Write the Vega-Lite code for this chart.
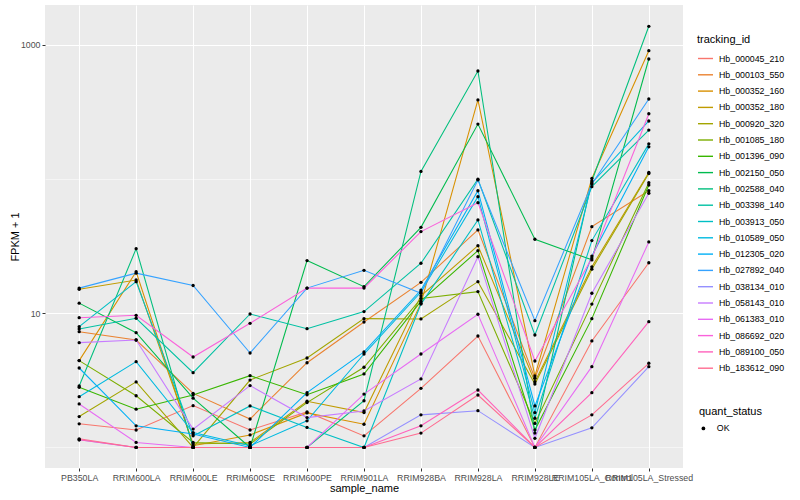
{
"$schema":"https://vega.github.io/schema/vega-lite/v6.json",
"autosize":{"type":"none"},
"width":638,"height":463,
"padding":{"left":45,"top":5,"right":117,"bottom":32},
"background":"white",
"config":{"view":{"fill":"#EBEBEB","stroke":null},"font":"Liberation Sans"},
"datasets":{"expr":[
{"tracking_id":"Hb_000045_210","sample_name":"PB350LA","FPKM_plus_1":1.50,"quant_status":"OK"},
{"tracking_id":"Hb_000045_210","sample_name":"RRIM600LA","FPKM_plus_1":1.35,"quant_status":"OK"},
{"tracking_id":"Hb_000045_210","sample_name":"RRIM600LE","FPKM_plus_1":2.05,"quant_status":"OK"},
{"tracking_id":"Hb_000045_210","sample_name":"RRIM600SE","FPKM_plus_1":1.35,"quant_status":"OK"},
{"tracking_id":"Hb_000045_210","sample_name":"RRIM600PE","FPKM_plus_1":1.84,"quant_status":"OK"},
{"tracking_id":"Hb_000045_210","sample_name":"RRIM901LA","FPKM_plus_1":1.22,"quant_status":"OK"},
{"tracking_id":"Hb_000045_210","sample_name":"RRIM928BA","FPKM_plus_1":2.76,"quant_status":"OK"},
{"tracking_id":"Hb_000045_210","sample_name":"RRIM928LA","FPKM_plus_1":6.77,"quant_status":"OK"},
{"tracking_id":"Hb_000045_210","sample_name":"RRIM928LE","FPKM_plus_1":1,"quant_status":"OK"},
{"tracking_id":"Hb_000045_210","sample_name":"RRIM105LA_Control","FPKM_plus_1":6.22,"quant_status":"OK"},
{"tracking_id":"Hb_000045_210","sample_name":"RRIM105LA_Stressed","FPKM_plus_1":23.8,"quant_status":"OK"},
{"tracking_id":"Hb_000103_550","sample_name":"PB350LA","FPKM_plus_1":7.29,"quant_status":"OK"},
{"tracking_id":"Hb_000103_550","sample_name":"RRIM600LA","FPKM_plus_1":6.32,"quant_status":"OK"},
{"tracking_id":"Hb_000103_550","sample_name":"RRIM600LE","FPKM_plus_1":2.53,"quant_status":"OK"},
{"tracking_id":"Hb_000103_550","sample_name":"RRIM600SE","FPKM_plus_1":1.63,"quant_status":"OK"},
{"tracking_id":"Hb_000103_550","sample_name":"RRIM600PE","FPKM_plus_1":4.28,"quant_status":"OK"},
{"tracking_id":"Hb_000103_550","sample_name":"RRIM901LA","FPKM_plus_1":8.61,"quant_status":"OK"},
{"tracking_id":"Hb_000103_550","sample_name":"RRIM928BA","FPKM_plus_1":17.0,"quant_status":"OK"},
{"tracking_id":"Hb_000103_550","sample_name":"RRIM928LA","FPKM_plus_1":41.8,"quant_status":"OK"},
{"tracking_id":"Hb_000103_550","sample_name":"RRIM928LE","FPKM_plus_1":3.28,"quant_status":"OK"},
{"tracking_id":"Hb_000103_550","sample_name":"RRIM105LA_Control","FPKM_plus_1":44.2,"quant_status":"OK"},
{"tracking_id":"Hb_000103_550","sample_name":"RRIM105LA_Stressed","FPKM_plus_1":81.9,"quant_status":"OK"},
{"tracking_id":"Hb_000352_160","sample_name":"PB350LA","FPKM_plus_1":4.44,"quant_status":"OK"},
{"tracking_id":"Hb_000352_160","sample_name":"RRIM600LA","FPKM_plus_1":20.4,"quant_status":"OK"},
{"tracking_id":"Hb_000352_160","sample_name":"RRIM600LE","FPKM_plus_1":1.03,"quant_status":"OK"},
{"tracking_id":"Hb_000352_160","sample_name":"RRIM600SE","FPKM_plus_1":1.24,"quant_status":"OK"},
{"tracking_id":"Hb_000352_160","sample_name":"RRIM600PE","FPKM_plus_1":1.81,"quant_status":"OK"},
{"tracking_id":"Hb_000352_160","sample_name":"RRIM901LA","FPKM_plus_1":1.49,"quant_status":"OK"},
{"tracking_id":"Hb_000352_160","sample_name":"RRIM928BA","FPKM_plus_1":11.9,"quant_status":"OK"},
{"tracking_id":"Hb_000352_160","sample_name":"RRIM928LA","FPKM_plus_1":389,"quant_status":"OK"},
{"tracking_id":"Hb_000352_160","sample_name":"RRIM928LE","FPKM_plus_1":3.41,"quant_status":"OK"},
{"tracking_id":"Hb_000352_160","sample_name":"RRIM105LA_Control","FPKM_plus_1":101,"quant_status":"OK"},
{"tracking_id":"Hb_000352_160","sample_name":"RRIM105LA_Stressed","FPKM_plus_1":905,"quant_status":"OK"},
{"tracking_id":"Hb_000352_180","sample_name":"PB350LA","FPKM_plus_1":15.1,"quant_status":"OK"},
{"tracking_id":"Hb_000352_180","sample_name":"RRIM600LA","FPKM_plus_1":17.7,"quant_status":"OK"},
{"tracking_id":"Hb_000352_180","sample_name":"RRIM600LE","FPKM_plus_1":1.06,"quant_status":"OK"},
{"tracking_id":"Hb_000352_180","sample_name":"RRIM600SE","FPKM_plus_1":1.09,"quant_status":"OK"},
{"tracking_id":"Hb_000352_180","sample_name":"RRIM600PE","FPKM_plus_1":2.21,"quant_status":"OK"},
{"tracking_id":"Hb_000352_180","sample_name":"RRIM901LA","FPKM_plus_1":1.82,"quant_status":"OK"},
{"tracking_id":"Hb_000352_180","sample_name":"RRIM928BA","FPKM_plus_1":13.5,"quant_status":"OK"},
{"tracking_id":"Hb_000352_180","sample_name":"RRIM928LA","FPKM_plus_1":31.9,"quant_status":"OK"},
{"tracking_id":"Hb_000352_180","sample_name":"RRIM928LE","FPKM_plus_1":3.09,"quant_status":"OK"},
{"tracking_id":"Hb_000352_180","sample_name":"RRIM105LA_Control","FPKM_plus_1":22.2,"quant_status":"OK"},
{"tracking_id":"Hb_000352_180","sample_name":"RRIM105LA_Stressed","FPKM_plus_1":112,"quant_status":"OK"},
{"tracking_id":"Hb_000920_320","sample_name":"PB350LA","FPKM_plus_1":1.70,"quant_status":"OK"},
{"tracking_id":"Hb_000920_320","sample_name":"RRIM600LA","FPKM_plus_1":3.08,"quant_status":"OK"},
{"tracking_id":"Hb_000920_320","sample_name":"RRIM600LE","FPKM_plus_1":1,"quant_status":"OK"},
{"tracking_id":"Hb_000920_320","sample_name":"RRIM600SE","FPKM_plus_1":3.18,"quant_status":"OK"},
{"tracking_id":"Hb_000920_320","sample_name":"RRIM600PE","FPKM_plus_1":4.64,"quant_status":"OK"},
{"tracking_id":"Hb_000920_320","sample_name":"RRIM901LA","FPKM_plus_1":9.12,"quant_status":"OK"},
{"tracking_id":"Hb_000920_320","sample_name":"RRIM928BA","FPKM_plus_1":9.07,"quant_status":"OK"},
{"tracking_id":"Hb_000920_320","sample_name":"RRIM928LA","FPKM_plus_1":17.2,"quant_status":"OK"},
{"tracking_id":"Hb_000920_320","sample_name":"RRIM928LE","FPKM_plus_1":2.97,"quant_status":"OK"},
{"tracking_id":"Hb_000920_320","sample_name":"RRIM105LA_Control","FPKM_plus_1":21.3,"quant_status":"OK"},
{"tracking_id":"Hb_000920_320","sample_name":"RRIM105LA_Stressed","FPKM_plus_1":110,"quant_status":"OK"},
{"tracking_id":"Hb_001085_180","sample_name":"PB350LA","FPKM_plus_1":4.44,"quant_status":"OK"},
{"tracking_id":"Hb_001085_180","sample_name":"RRIM600LA","FPKM_plus_1":2.43,"quant_status":"OK"},
{"tracking_id":"Hb_001085_180","sample_name":"RRIM600LE","FPKM_plus_1":1.09,"quant_status":"OK"},
{"tracking_id":"Hb_001085_180","sample_name":"RRIM600SE","FPKM_plus_1":1.06,"quant_status":"OK"},
{"tracking_id":"Hb_001085_180","sample_name":"RRIM600PE","FPKM_plus_1":2.16,"quant_status":"OK"},
{"tracking_id":"Hb_001085_180","sample_name":"RRIM901LA","FPKM_plus_1":3.96,"quant_status":"OK"},
{"tracking_id":"Hb_001085_180","sample_name":"RRIM928BA","FPKM_plus_1":12.9,"quant_status":"OK"},
{"tracking_id":"Hb_001085_180","sample_name":"RRIM928LA","FPKM_plus_1":14.5,"quant_status":"OK"},
{"tracking_id":"Hb_001085_180","sample_name":"RRIM928LE","FPKM_plus_1":1.51,"quant_status":"OK"},
{"tracking_id":"Hb_001085_180","sample_name":"RRIM105LA_Control","FPKM_plus_1":11.7,"quant_status":"OK"},
{"tracking_id":"Hb_001085_180","sample_name":"RRIM105LA_Stressed","FPKM_plus_1":94.0,"quant_status":"OK"},
{"tracking_id":"Hb_001396_090","sample_name":"PB350LA","FPKM_plus_1":2.81,"quant_status":"OK"},
{"tracking_id":"Hb_001396_090","sample_name":"RRIM600LA","FPKM_plus_1":1.93,"quant_status":"OK"},
{"tracking_id":"Hb_001396_090","sample_name":"RRIM600LE","FPKM_plus_1":2.46,"quant_status":"OK"},
{"tracking_id":"Hb_001396_090","sample_name":"RRIM600SE","FPKM_plus_1":3.43,"quant_status":"OK"},
{"tracking_id":"Hb_001396_090","sample_name":"RRIM600PE","FPKM_plus_1":2.47,"quant_status":"OK"},
{"tracking_id":"Hb_001396_090","sample_name":"RRIM901LA","FPKM_plus_1":3.53,"quant_status":"OK"},
{"tracking_id":"Hb_001396_090","sample_name":"RRIM928BA","FPKM_plus_1":12.3,"quant_status":"OK"},
{"tracking_id":"Hb_001396_090","sample_name":"RRIM928LA","FPKM_plus_1":29.3,"quant_status":"OK"},
{"tracking_id":"Hb_001396_090","sample_name":"RRIM928LE","FPKM_plus_1":1.35,"quant_status":"OK"},
{"tracking_id":"Hb_001396_090","sample_name":"RRIM105LA_Control","FPKM_plus_1":9.12,"quant_status":"OK"},
{"tracking_id":"Hb_001396_090","sample_name":"RRIM105LA_Stressed","FPKM_plus_1":90.4,"quant_status":"OK"},
{"tracking_id":"Hb_002150_050","sample_name":"PB350LA","FPKM_plus_1":11.9,"quant_status":"OK"},
{"tracking_id":"Hb_002150_050","sample_name":"RRIM600LA","FPKM_plus_1":7.17,"quant_status":"OK"},
{"tracking_id":"Hb_002150_050","sample_name":"RRIM600LE","FPKM_plus_1":2.33,"quant_status":"OK"},
{"tracking_id":"Hb_002150_050","sample_name":"RRIM600SE","FPKM_plus_1":1,"quant_status":"OK"},
{"tracking_id":"Hb_002150_050","sample_name":"RRIM600PE","FPKM_plus_1":24.7,"quant_status":"OK"},
{"tracking_id":"Hb_002150_050","sample_name":"RRIM901LA","FPKM_plus_1":15.8,"quant_status":"OK"},
{"tracking_id":"Hb_002150_050","sample_name":"RRIM928BA","FPKM_plus_1":43.7,"quant_status":"OK"},
{"tracking_id":"Hb_002150_050","sample_name":"RRIM928LA","FPKM_plus_1":257,"quant_status":"OK"},
{"tracking_id":"Hb_002150_050","sample_name":"RRIM928LE","FPKM_plus_1":35.6,"quant_status":"OK"},
{"tracking_id":"Hb_002150_050","sample_name":"RRIM105LA_Control","FPKM_plus_1":25.0,"quant_status":"OK"},
{"tracking_id":"Hb_002150_050","sample_name":"RRIM105LA_Stressed","FPKM_plus_1":785,"quant_status":"OK"},
{"tracking_id":"Hb_002588_040","sample_name":"PB350LA","FPKM_plus_1":2.87,"quant_status":"OK"},
{"tracking_id":"Hb_002588_040","sample_name":"RRIM600LA","FPKM_plus_1":30.3,"quant_status":"OK"},
{"tracking_id":"Hb_002588_040","sample_name":"RRIM600LE","FPKM_plus_1":1,"quant_status":"OK"},
{"tracking_id":"Hb_002588_040","sample_name":"RRIM600SE","FPKM_plus_1":1,"quant_status":"OK"},
{"tracking_id":"Hb_002588_040","sample_name":"RRIM600PE","FPKM_plus_1":1,"quant_status":"OK"},
{"tracking_id":"Hb_002588_040","sample_name":"RRIM901LA","FPKM_plus_1":2.23,"quant_status":"OK"},
{"tracking_id":"Hb_002588_040","sample_name":"RRIM928BA","FPKM_plus_1":114,"quant_status":"OK"},
{"tracking_id":"Hb_002588_040","sample_name":"RRIM928LA","FPKM_plus_1":639,"quant_status":"OK"},
{"tracking_id":"Hb_002588_040","sample_name":"RRIM928LE","FPKM_plus_1":1.28,"quant_status":"OK"},
{"tracking_id":"Hb_002588_040","sample_name":"RRIM105LA_Control","FPKM_plus_1":96.8,"quant_status":"OK"},
{"tracking_id":"Hb_002588_040","sample_name":"RRIM105LA_Stressed","FPKM_plus_1":1376,"quant_status":"OK"},
{"tracking_id":"Hb_003398_140","sample_name":"PB350LA","FPKM_plus_1":7.64,"quant_status":"OK"},
{"tracking_id":"Hb_003398_140","sample_name":"RRIM600LA","FPKM_plus_1":9.18,"quant_status":"OK"},
{"tracking_id":"Hb_003398_140","sample_name":"RRIM600LE","FPKM_plus_1":3.61,"quant_status":"OK"},
{"tracking_id":"Hb_003398_140","sample_name":"RRIM600SE","FPKM_plus_1":9.88,"quant_status":"OK"},
{"tracking_id":"Hb_003398_140","sample_name":"RRIM600PE","FPKM_plus_1":7.68,"quant_status":"OK"},
{"tracking_id":"Hb_003398_140","sample_name":"RRIM901LA","FPKM_plus_1":10.3,"quant_status":"OK"},
{"tracking_id":"Hb_003398_140","sample_name":"RRIM928BA","FPKM_plus_1":23.6,"quant_status":"OK"},
{"tracking_id":"Hb_003398_140","sample_name":"RRIM928LA","FPKM_plus_1":99.7,"quant_status":"OK"},
{"tracking_id":"Hb_003398_140","sample_name":"RRIM928LE","FPKM_plus_1":6.89,"quant_status":"OK"},
{"tracking_id":"Hb_003398_140","sample_name":"RRIM105LA_Control","FPKM_plus_1":87.8,"quant_status":"OK"},
{"tracking_id":"Hb_003398_140","sample_name":"RRIM105LA_Stressed","FPKM_plus_1":232,"quant_status":"OK"},
{"tracking_id":"Hb_003913_050","sample_name":"PB350LA","FPKM_plus_1":7.95,"quant_status":"OK"},
{"tracking_id":"Hb_003913_050","sample_name":"RRIM600LA","FPKM_plus_1":17.2,"quant_status":"OK"},
{"tracking_id":"Hb_003913_050","sample_name":"RRIM600LE","FPKM_plus_1":1.22,"quant_status":"OK"},
{"tracking_id":"Hb_003913_050","sample_name":"RRIM600SE","FPKM_plus_1":2.04,"quant_status":"OK"},
{"tracking_id":"Hb_003913_050","sample_name":"RRIM600PE","FPKM_plus_1":1.41,"quant_status":"OK"},
{"tracking_id":"Hb_003913_050","sample_name":"RRIM901LA","FPKM_plus_1":1,"quant_status":"OK"},
{"tracking_id":"Hb_003913_050","sample_name":"RRIM928BA","FPKM_plus_1":11.7,"quant_status":"OK"},
{"tracking_id":"Hb_003913_050","sample_name":"RRIM928LA","FPKM_plus_1":49.6,"quant_status":"OK"},
{"tracking_id":"Hb_003913_050","sample_name":"RRIM928LE","FPKM_plus_1":1.65,"quant_status":"OK"},
{"tracking_id":"Hb_003913_050","sample_name":"RRIM105LA_Control","FPKM_plus_1":34.8,"quant_status":"OK"},
{"tracking_id":"Hb_003913_050","sample_name":"RRIM105LA_Stressed","FPKM_plus_1":183,"quant_status":"OK"},
{"tracking_id":"Hb_010589_050","sample_name":"PB350LA","FPKM_plus_1":2.39,"quant_status":"OK"},
{"tracking_id":"Hb_010589_050","sample_name":"RRIM600LA","FPKM_plus_1":4.36,"quant_status":"OK"},
{"tracking_id":"Hb_010589_050","sample_name":"RRIM600LE","FPKM_plus_1":1.29,"quant_status":"OK"},
{"tracking_id":"Hb_010589_050","sample_name":"RRIM600SE","FPKM_plus_1":1.03,"quant_status":"OK"},
{"tracking_id":"Hb_010589_050","sample_name":"RRIM600PE","FPKM_plus_1":1.58,"quant_status":"OK"},
{"tracking_id":"Hb_010589_050","sample_name":"RRIM901LA","FPKM_plus_1":4.97,"quant_status":"OK"},
{"tracking_id":"Hb_010589_050","sample_name":"RRIM928BA","FPKM_plus_1":14.4,"quant_status":"OK"},
{"tracking_id":"Hb_010589_050","sample_name":"RRIM928LA","FPKM_plus_1":73.9,"quant_status":"OK"},
{"tracking_id":"Hb_010589_050","sample_name":"RRIM928LE","FPKM_plus_1":1.82,"quant_status":"OK"},
{"tracking_id":"Hb_010589_050","sample_name":"RRIM105LA_Control","FPKM_plus_1":93.5,"quant_status":"OK"},
{"tracking_id":"Hb_010589_050","sample_name":"RRIM105LA_Stressed","FPKM_plus_1":271,"quant_status":"OK"},
{"tracking_id":"Hb_012305_020","sample_name":"PB350LA","FPKM_plus_1":3.91,"quant_status":"OK"},
{"tracking_id":"Hb_012305_020","sample_name":"RRIM600LA","FPKM_plus_1":1.45,"quant_status":"OK"},
{"tracking_id":"Hb_012305_020","sample_name":"RRIM600LE","FPKM_plus_1":1.26,"quant_status":"OK"},
{"tracking_id":"Hb_012305_020","sample_name":"RRIM600SE","FPKM_plus_1":1,"quant_status":"OK"},
{"tracking_id":"Hb_012305_020","sample_name":"RRIM600PE","FPKM_plus_1":2.56,"quant_status":"OK"},
{"tracking_id":"Hb_012305_020","sample_name":"RRIM901LA","FPKM_plus_1":5.15,"quant_status":"OK"},
{"tracking_id":"Hb_012305_020","sample_name":"RRIM928BA","FPKM_plus_1":14.9,"quant_status":"OK"},
{"tracking_id":"Hb_012305_020","sample_name":"RRIM928LA","FPKM_plus_1":81.9,"quant_status":"OK"},
{"tracking_id":"Hb_012305_020","sample_name":"RRIM928LE","FPKM_plus_1":2.04,"quant_status":"OK"},
{"tracking_id":"Hb_012305_020","sample_name":"RRIM105LA_Control","FPKM_plus_1":26.7,"quant_status":"OK"},
{"tracking_id":"Hb_012305_020","sample_name":"RRIM105LA_Stressed","FPKM_plus_1":174,"quant_status":"OK"},
{"tracking_id":"Hb_027892_040","sample_name":"PB350LA","FPKM_plus_1":15.4,"quant_status":"OK"},
{"tracking_id":"Hb_027892_040","sample_name":"RRIM600LA","FPKM_plus_1":19.9,"quant_status":"OK"},
{"tracking_id":"Hb_027892_040","sample_name":"RRIM600LE","FPKM_plus_1":16.1,"quant_status":"OK"},
{"tracking_id":"Hb_027892_040","sample_name":"RRIM600SE","FPKM_plus_1":5.06,"quant_status":"OK"},
{"tracking_id":"Hb_027892_040","sample_name":"RRIM600PE","FPKM_plus_1":15.4,"quant_status":"OK"},
{"tracking_id":"Hb_027892_040","sample_name":"RRIM901LA","FPKM_plus_1":20.9,"quant_status":"OK"},
{"tracking_id":"Hb_027892_040","sample_name":"RRIM928BA","FPKM_plus_1":14.1,"quant_status":"OK"},
{"tracking_id":"Hb_027892_040","sample_name":"RRIM928LA","FPKM_plus_1":98.5,"quant_status":"OK"},
{"tracking_id":"Hb_027892_040","sample_name":"RRIM928LE","FPKM_plus_1":8.81,"quant_status":"OK"},
{"tracking_id":"Hb_027892_040","sample_name":"RRIM105LA_Control","FPKM_plus_1":91.9,"quant_status":"OK"},
{"tracking_id":"Hb_027892_040","sample_name":"RRIM105LA_Stressed","FPKM_plus_1":395,"quant_status":"OK"},
{"tracking_id":"Hb_038134_010","sample_name":"PB350LA","FPKM_plus_1":1.14,"quant_status":"OK"},
{"tracking_id":"Hb_038134_010","sample_name":"RRIM600LA","FPKM_plus_1":1,"quant_status":"OK"},
{"tracking_id":"Hb_038134_010","sample_name":"RRIM600LE","FPKM_plus_1":1,"quant_status":"OK"},
{"tracking_id":"Hb_038134_010","sample_name":"RRIM600SE","FPKM_plus_1":1,"quant_status":"OK"},
{"tracking_id":"Hb_038134_010","sample_name":"RRIM600PE","FPKM_plus_1":1,"quant_status":"OK"},
{"tracking_id":"Hb_038134_010","sample_name":"RRIM901LA","FPKM_plus_1":1,"quant_status":"OK"},
{"tracking_id":"Hb_038134_010","sample_name":"RRIM928BA","FPKM_plus_1":1.75,"quant_status":"OK"},
{"tracking_id":"Hb_038134_010","sample_name":"RRIM928LA","FPKM_plus_1":1.88,"quant_status":"OK"},
{"tracking_id":"Hb_038134_010","sample_name":"RRIM928LE","FPKM_plus_1":1,"quant_status":"OK"},
{"tracking_id":"Hb_038134_010","sample_name":"RRIM105LA_Control","FPKM_plus_1":1.40,"quant_status":"OK"},
{"tracking_id":"Hb_038134_010","sample_name":"RRIM105LA_Stressed","FPKM_plus_1":4.00,"quant_status":"OK"},
{"tracking_id":"Hb_058143_010","sample_name":"PB350LA","FPKM_plus_1":6.04,"quant_status":"OK"},
{"tracking_id":"Hb_058143_010","sample_name":"RRIM600LA","FPKM_plus_1":6.32,"quant_status":"OK"},
{"tracking_id":"Hb_058143_010","sample_name":"RRIM600LE","FPKM_plus_1":1.37,"quant_status":"OK"},
{"tracking_id":"Hb_058143_010","sample_name":"RRIM600SE","FPKM_plus_1":2.89,"quant_status":"OK"},
{"tracking_id":"Hb_058143_010","sample_name":"RRIM600PE","FPKM_plus_1":1.67,"quant_status":"OK"},
{"tracking_id":"Hb_058143_010","sample_name":"RRIM901LA","FPKM_plus_1":1.87,"quant_status":"OK"},
{"tracking_id":"Hb_058143_010","sample_name":"RRIM928BA","FPKM_plus_1":3.24,"quant_status":"OK"},
{"tracking_id":"Hb_058143_010","sample_name":"RRIM928LA","FPKM_plus_1":26.4,"quant_status":"OK"},
{"tracking_id":"Hb_058143_010","sample_name":"RRIM928LE","FPKM_plus_1":1.17,"quant_status":"OK"},
{"tracking_id":"Hb_058143_010","sample_name":"RRIM105LA_Control","FPKM_plus_1":14.1,"quant_status":"OK"},
{"tracking_id":"Hb_058143_010","sample_name":"RRIM105LA_Stressed","FPKM_plus_1":78.4,"quant_status":"OK"},
{"tracking_id":"Hb_061383_010","sample_name":"PB350LA","FPKM_plus_1":2.11,"quant_status":"OK"},
{"tracking_id":"Hb_061383_010","sample_name":"RRIM600LA","FPKM_plus_1":1.09,"quant_status":"OK"},
{"tracking_id":"Hb_061383_010","sample_name":"RRIM600LE","FPKM_plus_1":1,"quant_status":"OK"},
{"tracking_id":"Hb_061383_010","sample_name":"RRIM600SE","FPKM_plus_1":1,"quant_status":"OK"},
{"tracking_id":"Hb_061383_010","sample_name":"RRIM600PE","FPKM_plus_1":1,"quant_status":"OK"},
{"tracking_id":"Hb_061383_010","sample_name":"RRIM901LA","FPKM_plus_1":2.50,"quant_status":"OK"},
{"tracking_id":"Hb_061383_010","sample_name":"RRIM928BA","FPKM_plus_1":4.97,"quant_status":"OK"},
{"tracking_id":"Hb_061383_010","sample_name":"RRIM928LA","FPKM_plus_1":9.83,"quant_status":"OK"},
{"tracking_id":"Hb_061383_010","sample_name":"RRIM928LE","FPKM_plus_1":1,"quant_status":"OK"},
{"tracking_id":"Hb_061383_010","sample_name":"RRIM105LA_Control","FPKM_plus_1":4.00,"quant_status":"OK"},
{"tracking_id":"Hb_061383_010","sample_name":"RRIM105LA_Stressed","FPKM_plus_1":34.0,"quant_status":"OK"},
{"tracking_id":"Hb_086692_020","sample_name":"PB350LA","FPKM_plus_1":9.27,"quant_status":"OK"},
{"tracking_id":"Hb_086692_020","sample_name":"RRIM600LA","FPKM_plus_1":9.66,"quant_status":"OK"},
{"tracking_id":"Hb_086692_020","sample_name":"RRIM600LE","FPKM_plus_1":4.72,"quant_status":"OK"},
{"tracking_id":"Hb_086692_020","sample_name":"RRIM600SE","FPKM_plus_1":8.42,"quant_status":"OK"},
{"tracking_id":"Hb_086692_020","sample_name":"RRIM600PE","FPKM_plus_1":15.4,"quant_status":"OK"},
{"tracking_id":"Hb_086692_020","sample_name":"RRIM901LA","FPKM_plus_1":15.4,"quant_status":"OK"},
{"tracking_id":"Hb_086692_020","sample_name":"RRIM928BA","FPKM_plus_1":40.6,"quant_status":"OK"},
{"tracking_id":"Hb_086692_020","sample_name":"RRIM928LA","FPKM_plus_1":66.7,"quant_status":"OK"},
{"tracking_id":"Hb_086692_020","sample_name":"RRIM928LE","FPKM_plus_1":4.41,"quant_status":"OK"},
{"tracking_id":"Hb_086692_020","sample_name":"RRIM105LA_Control","FPKM_plus_1":25.8,"quant_status":"OK"},
{"tracking_id":"Hb_086692_020","sample_name":"RRIM105LA_Stressed","FPKM_plus_1":307,"quant_status":"OK"},
{"tracking_id":"Hb_089100_050","sample_name":"PB350LA","FPKM_plus_1":1.14,"quant_status":"OK"},
{"tracking_id":"Hb_089100_050","sample_name":"RRIM600LA","FPKM_plus_1":1,"quant_status":"OK"},
{"tracking_id":"Hb_089100_050","sample_name":"RRIM600LE","FPKM_plus_1":1,"quant_status":"OK"},
{"tracking_id":"Hb_089100_050","sample_name":"RRIM600SE","FPKM_plus_1":1,"quant_status":"OK"},
{"tracking_id":"Hb_089100_050","sample_name":"RRIM600PE","FPKM_plus_1":1,"quant_status":"OK"},
{"tracking_id":"Hb_089100_050","sample_name":"RRIM901LA","FPKM_plus_1":1,"quant_status":"OK"},
{"tracking_id":"Hb_089100_050","sample_name":"RRIM928BA","FPKM_plus_1":1.45,"quant_status":"OK"},
{"tracking_id":"Hb_089100_050","sample_name":"RRIM928LA","FPKM_plus_1":2.68,"quant_status":"OK"},
{"tracking_id":"Hb_089100_050","sample_name":"RRIM928LE","FPKM_plus_1":1,"quant_status":"OK"},
{"tracking_id":"Hb_089100_050","sample_name":"RRIM105LA_Control","FPKM_plus_1":2.56,"quant_status":"OK"},
{"tracking_id":"Hb_089100_050","sample_name":"RRIM105LA_Stressed","FPKM_plus_1":8.66,"quant_status":"OK"},
{"tracking_id":"Hb_183612_090","sample_name":"PB350LA","FPKM_plus_1":1.16,"quant_status":"OK"},
{"tracking_id":"Hb_183612_090","sample_name":"RRIM600LA","FPKM_plus_1":1,"quant_status":"OK"},
{"tracking_id":"Hb_183612_090","sample_name":"RRIM600LE","FPKM_plus_1":1,"quant_status":"OK"},
{"tracking_id":"Hb_183612_090","sample_name":"RRIM600SE","FPKM_plus_1":1,"quant_status":"OK"},
{"tracking_id":"Hb_183612_090","sample_name":"RRIM600PE","FPKM_plus_1":1,"quant_status":"OK"},
{"tracking_id":"Hb_183612_090","sample_name":"RRIM901LA","FPKM_plus_1":1,"quant_status":"OK"},
{"tracking_id":"Hb_183612_090","sample_name":"RRIM928BA","FPKM_plus_1":1.28,"quant_status":"OK"},
{"tracking_id":"Hb_183612_090","sample_name":"RRIM928LA","FPKM_plus_1":2.46,"quant_status":"OK"},
{"tracking_id":"Hb_183612_090","sample_name":"RRIM928LE","FPKM_plus_1":1,"quant_status":"OK"},
{"tracking_id":"Hb_183612_090","sample_name":"RRIM105LA_Control","FPKM_plus_1":1.75,"quant_status":"OK"},
{"tracking_id":"Hb_183612_090","sample_name":"RRIM105LA_Stressed","FPKM_plus_1":4.24,"quant_status":"OK"}
]},
"data":{"name":"expr"},
"encoding":{
 "x":{"field":"sample_name","type":"nominal",
  "sort":["PB350LA","RRIM600LA","RRIM600LE","RRIM600SE","RRIM600PE","RRIM901LA","RRIM928BA","RRIM928LA","RRIM928LE","RRIM105LA_Control","RRIM105LA_Stressed"],
  "scale":{"type":"point","padding":0.6},
  "axis":{"title":"sample_name","labelAngle":0,"labelOverlap":false,"labelBound":false,"labelFlush":false,"domain":false,"grid":true,"gridColor":"white","gridWidth":1.07,"tickColor":"#333333","tickSize":3,"tickWidth":1,"labelPadding":2,"labelFontSize":8.8,"labelColor":"#4D4D4D","labelFont":"Liberation Sans","titleFont":"Liberation Sans","titleFontSize":11,"titleFontWeight":"normal","titleColor":"black","titlePadding":1}},
 "y":{"field":"FPKM_plus_1","type":"quantitative",
  "scale":{"type":"log","domain":[0.703,1983],"nice":false,"zero":false},
  "axis":{"title":"FPKM + 1","values":[1,10,100,1000],
   "labelExpr":"datum.value == 10 || datum.value == 1000 ? format(datum.value, 'd') : ''",
   "domain":false,"grid":true,"gridColor":"white",
   "gridWidth":{"condition":{"test":"datum.value == 10 || datum.value == 1000","value":1.07},"value":0.53},
   "tickOpacity":{"condition":{"test":"datum.value == 10 || datum.value == 1000","value":1},"value":0},
   "tickColor":"#333333","tickSize":3,"tickWidth":1,"labelPadding":2,"labelFontSize":8.8,"labelColor":"#4D4D4D","labelFont":"Liberation Sans","titleFont":"Liberation Sans","titleFontSize":11,"titleFontWeight":"normal","titleColor":"black","titlePadding":0}}
},
"layer":[
 {"mark":{"type":"line","strokeWidth":1.07,"clip":true},
  "encoding":{"color":{"field":"tracking_id","type":"nominal",
   "scale":{"domain":["Hb_000045_210","Hb_000103_550","Hb_000352_160","Hb_000352_180","Hb_000920_320","Hb_001085_180","Hb_001396_090","Hb_002150_050","Hb_002588_040","Hb_003398_140","Hb_003913_050","Hb_010589_050","Hb_012305_020","Hb_027892_040","Hb_038134_010","Hb_058143_010","Hb_061383_010","Hb_086692_020","Hb_089100_050","Hb_183612_090"],
    "range":["#F8766D","#EA8331","#D89000","#C09B00","#A3A500","#7CAE00","#39B600","#00BB4E","#00BF7D","#00C1A3","#00BFC4","#00BAE0","#00B0F6","#35A2FF","#9590FF","#C77CFF","#E76BF3","#FA62DB","#FF62BC","#FF6C91"]},
   "legend":{"title":"tracking_id","orient":"none","legendX":652,"legendY":29,"padding":0,"symbolType":"stroke","symbolSize":225,"symbolStrokeWidth":1.4,"rowPadding":2.3,"labelOffset":5,"labelFontSize":8.8,"labelColor":"black","labelFont":"Liberation Sans","titleFont":"Liberation Sans","titleFontSize":11,"titleFontWeight":"normal","titleColor":"black","titlePadding":5}}}},
 {"mark":{"type":"point","filled":true,"size":11,"opacity":1,"color":"black","clip":true},
  "encoding":{"shape":{"field":"quant_status","type":"nominal","scale":{"range":["circle"]},
   "legend":{"title":"quant_status","orient":"none","legendX":654,"legendY":401,"padding":0,"symbolSize":14,"symbolFillColor":"black","symbolStrokeColor":"black","labelOffset":9,"labelFontSize":8.8,"labelColor":"black","labelFont":"Liberation Sans","titleFont":"Liberation Sans","titleFontSize":11,"titleFontWeight":"normal","titleColor":"black","titlePadding":7}}}}
]
}
